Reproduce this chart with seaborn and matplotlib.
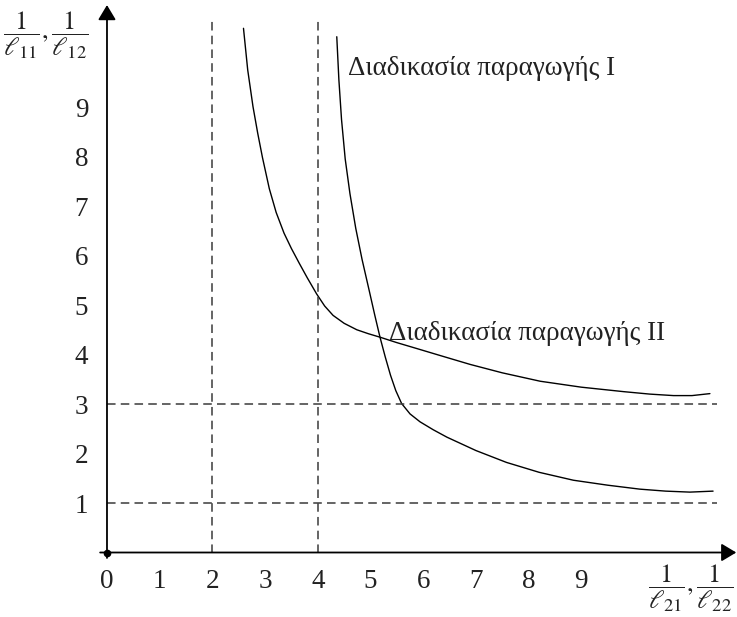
import numpy as np
import pandas as pd
import matplotlib
matplotlib.use("Agg")
import matplotlib.pyplot as plt
import seaborn as sns

# values
curve_1_x = [4.36, 4.40, 4.45, 4.52, 4.61, 4.72, 4.84, 4.98, 5.08, 5.18, 5.28, 5.38,
             5.48, 5.59, 5.75, 5.94, 6.19, 6.45, 7.00, 7.58, 8.20, 8.85, 9.50, 10.11,
             10.60, 11.06, 11.50]
curve_1_y = [10.42, 9.55, 8.75, 7.95, 7.25, 6.55, 5.92, 5.27, 4.80, 4.35, 3.95, 3.58,
             3.27, 3.01, 2.80, 2.64, 2.48, 2.33, 2.06, 1.82, 1.62, 1.46, 1.36, 1.28,
             1.24, 1.22, 1.24]

curve_2_x = [2.59, 2.67, 2.77, 2.86, 2.95, 3.08, 3.21, 3.36, 3.50, 3.65, 3.80, 3.98,
             4.13, 4.29, 4.50, 4.74, 4.96, 5.18, 5.50, 5.88, 6.32, 6.89, 7.50, 8.22,
             9.00, 9.80, 10.30, 10.75, 11.10, 11.44]
curve_2_y = [10.59, 9.75, 9.01, 8.47, 7.98, 7.35, 6.87, 6.45, 6.14, 5.84, 5.55, 5.22,
             4.98, 4.79, 4.63, 4.50, 4.42, 4.35, 4.24, 4.12, 3.98, 3.80, 3.63, 3.46,
             3.34, 3.25, 3.20, 3.17, 3.17, 3.21]

ref_x = [2, 4]
ref_y = [1, 3]
x_ticks = [0, 1, 2, 3, 4, 5, 6, 7, 8, 9]
y_ticks = [1, 2, 3, 4, 5, 6, 7, 8, 9]

label_1 = "Διαδικασία παραγωγής I"
label_2 = "Διαδικασία παραγωγής II"
y_title = r"$\dfrac{1}{\ell_{11}},\dfrac{1}{\ell_{12}}$"
x_title = r"$\dfrac{1}{\ell_{21}},\dfrac{1}{\ell_{22}}$"

sns.set_theme(style="white")
plt.rcParams["font.family"] = ["Liberation Serif", "DejaVu Serif"]
plt.rcParams["mathtext.fontset"] = "stix"

df = pd.concat([
    pd.DataFrame({"x": curve_1_x, "y": curve_1_y, "curve": "I"}),
    pd.DataFrame({"x": curve_2_x, "y": curve_2_y, "curve": "II"}),
])

fig = plt.figure(figsize=(7.37, 6.17), dpi=100)
ax = fig.add_axes([0, 0, 1, 1])
ax.set_xlim(-2.03, 11.954)
ax.set_ylim(-1.303, 11.162)

sns.lineplot(data=df, x="x", y="y", hue="curve", palette=["black", "black"],
             sort=False, estimator=None, legend=False, linewidth=1.0, ax=ax)

dash_kw = dict(color="#3a3a3a", linewidth=1.1, dashes=(5.6, 3.4))
for xv in ref_x:
    ax.plot([xv, xv], [0, 10.8], **dash_kw)
for yv in ref_y:
    ax.plot([0, 11.57], [yv, yv], **dash_kw)

# axes with arrow heads
arrow = dict(arrowstyle="-|>,head_length=0.45,head_width=0.27", color="black",
             lw=1.3, shrinkA=0, shrinkB=0, mutation_scale=20)
ax.annotate("", xy=(11.94, 0), xytext=(-0.13, 0), arrowprops=arrow)
ax.annotate("", xy=(0, 11.06), xytext=(0, -0.11), arrowprops=arrow)
ax.plot(0, 0, "o", color="black", ms=4.5)

for s in ax.spines.values():
    s.set_visible(False)
ax.spines["bottom"].set_position(("data", 0))
ax.spines["left"].set_position(("data", 0))
ax.set_xticks(x_ticks)
ax.set_yticks(y_ticks)
ax.set_xticklabels([str(v) for v in x_ticks])
ax.set_yticklabels([str(v) for v in y_ticks])
ax.tick_params(axis="x", length=0, pad=12, labelsize=19.5, colors="#222222")
ax.tick_params(axis="y", length=0, pad=13.5, labelsize=19.5, colors="#222222")
ax.set_xlabel("")
ax.set_ylabel("")
ax.grid(False)

ax.text(4.57, 9.65, label_1, fontsize=19.5, ha="left", va="baseline", color="#222222")
ax.text(5.35, 4.29, label_2, fontsize=19.5, ha="left", va="baseline", color="#222222")
ax.text(-1.16, 10.45, y_title, fontsize=19, ha="center", va="center", color="#222222")
ax.text(11.08, -0.72, x_title, fontsize=19, ha="center", va="center", color="#222222")

fig.savefig("out.png", dpi=100)
